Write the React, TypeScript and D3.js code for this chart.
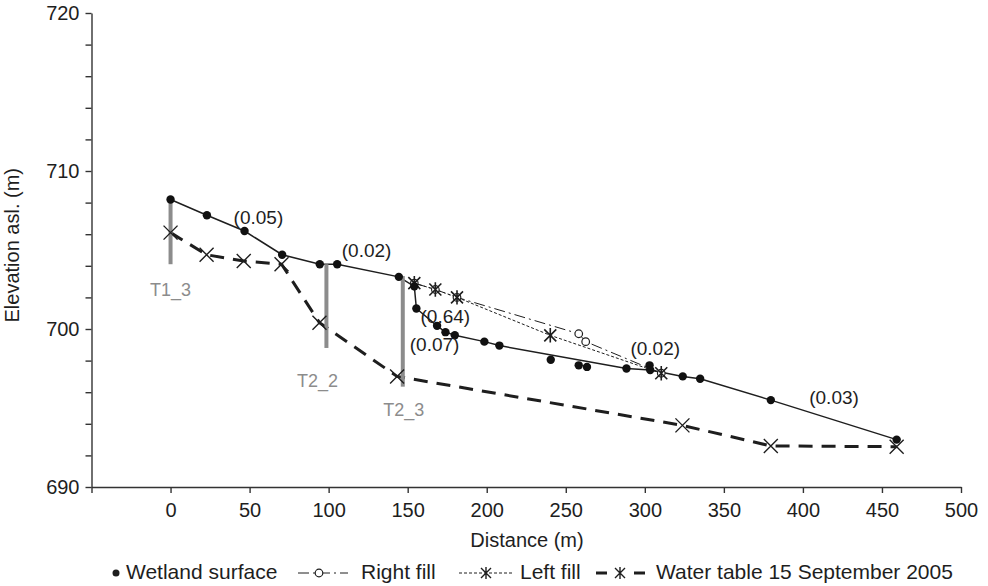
import React, { useEffect, useRef } from 'react';
import * as d3 from 'd3';

// wetland surface survey points (distance m, elevation m asl)
const surfaceDist = [0, 23, 46.8, 70.6, 94.4, 105.4, 144.4, 154.2, 155.5, 168.6, 173.9, 179.8, 198.5, 208, 240.5, 258.2, 263.4, 288.4, 303, 303.4, 324, 335, 379.7, 459.3];
const surfaceElev = [708.2, 707.2, 706.2, 704.7, 704.1, 704.1, 703.3, 702.7, 701.3, 700.2, 699.8, 699.6, 699.2, 698.95, 698.05, 697.7, 697.6, 697.5, 697.7, 697.4, 697.0, 696.85, 695.5, 693.0];
// survey points not joined by the profile line
const offProfile = [240.5, 258.2, 263.4, 303];

const rightFillDist = [154.2, 167.5, 181.2, 258.2, 262.6, 310.4];
const rightFillElev = [702.9, 702.5, 702.0, 699.7, 699.2, 697.2];

const leftFillDist = [154.2, 167.5, 181.2, 240.2, 310.4];
const leftFillElev = [702.9, 702.5, 702.0, 699.6, 697.2];

const waterDist = [0, 22.8, 46.3, 70.2, 94.2, 143.3, 323.8, 379.7, 459.3];
const waterElev = [706.1, 704.7, 704.3, 704.1, 700.4, 697.0, 693.9, 692.6, 692.55];

const wellNames = ['T1_3', 'T2_2', 'T2_3'];
const wellDist = [0, 98.6, 146.9];
const wellTop = [708.2, 704.1, 703.35];
const wellBottom = [704.1, 698.8, 696.35];
const wellLabelDist = [0, 93, 147.5];
const wellLabelElev = [702.4, 696.6, 694.8];

const slopeText = ['(0.05)', '(0.02)', '(0.64)', '(0.07)', '(0.02)', '(0.03)'];
const slopeDist = [55.6, 124, 173.8, 167, 306.6, 419.7];
const slopeElev = [706.96, 704.87, 700.7, 698.9, 698.7, 695.6];

const xTicks = [-50, 0, 50, 100, 150, 200, 250, 300, 350, 400, 450, 500];
const yTicks = d3.range(690, 721, 2);

const FONT = '"Liberation Sans", Arial, Helvetica, sans-serif';
const INK = '#1e1e1e';

const App = () => {
  const ref = useRef<SVGSVGElement>(null);

  useEffect(() => {
    const svg = d3.select(ref.current);
    svg.selectAll('*').remove();

    const x = d3.scaleLinear().domain([-50, 500]).range([91.5, 961]);
    const y = d3.scaleLinear().domain([690, 720]).range([487, 13]);

    // axes
    const xAxis = svg.append('g')
      .attr('transform', `translate(0,${y(690)})`)
      .call(d3.axisBottom(x).tickValues(xTicks).tickSize(6).tickSizeOuter(0)
        .tickFormat((d) => (+d < 0 ? '' : String(d))));
    const yAxis = svg.append('g')
      .attr('transform', `translate(${x(-50)},0)`)
      .call(d3.axisLeft(y).tickValues(yTicks).tickSize(6).tickSizeOuter(0)
        .tickFormat((d) => (+d % 10 === 0 ? String(d) : '')));
    [xAxis, yAxis].forEach((g) => {
      g.selectAll('path, line').attr('stroke', '#333').attr('stroke-width', 1.4);
      g.selectAll('text').attr('font-family', FONT).attr('font-size', 20).attr('fill', INK);
    });
    xAxis.selectAll('text').attr('dy', '1.05em');
    yAxis.selectAll('text').attr('dx', '-0.15em');

    svg.append('text')
      .attr('x', 527).attr('y', 542)
      .attr('text-anchor', 'middle').attr('dominant-baseline', 'middle')
      .attr('font-family', FONT).attr('font-size', 20).attr('fill', INK)
      .text('Distance (m)');
    svg.append('text')
      .attr('transform', `translate(19,${y(705.3)}) rotate(-90)`)
      .attr('text-anchor', 'middle')
      .attr('font-family', FONT).attr('font-size', 20).attr('fill', INK)
      .text('Elevation asl. (m)');

    const path = (xs: number[], ys: number[]) =>
      d3.line<number>().x((i) => x(xs[i])).y((i) => y(ys[i]))(d3.range(xs.length)) || '';

    // water table
    svg.append('path')
      .attr('d', path(waterDist, waterElev))
      .attr('fill', 'none').attr('stroke', INK).attr('stroke-width', 3)
      .attr('stroke-dasharray', '14,9');

    // right and left fill
    svg.append('path')
      .attr('d', path(rightFillDist, rightFillElev))
      .attr('fill', 'none').attr('stroke', INK).attr('stroke-width', 1)
      .attr('stroke-dasharray', '11,4,2,4');
    svg.append('path')
      .attr('d', path(leftFillDist, leftFillElev))
      .attr('fill', 'none').attr('stroke', INK).attr('stroke-width', 1)
      .attr('stroke-dasharray', '3,2');

    // surface profile
    const profIdx = d3.range(surfaceDist.length).filter((i) => !offProfile.includes(surfaceDist[i]));
    svg.append('path')
      .attr('d', d3.line<number>().x((i) => x(surfaceDist[i])).y((i) => y(surfaceElev[i]))(profIdx) || '')
      .attr('fill', 'none').attr('stroke', INK).attr('stroke-width', 1.5);

    // piezometer nests
    svg.selectAll('.well')
      .data(wellNames)
      .join('line')
      .attr('x1', (_, i) => x(wellDist[i])).attr('x2', (_, i) => x(wellDist[i]))
      .attr('y1', (_, i) => y(wellTop[i])).attr('y2', (_, i) => y(wellBottom[i]))
      .attr('stroke', '#8c8c8c').attr('stroke-width', 4);
    svg.selectAll('.wellLabel')
      .data(wellNames)
      .join('text')
      .attr('x', (_, i) => x(wellLabelDist[i])).attr('y', (_, i) => y(wellLabelElev[i]))
      .attr('text-anchor', 'middle').attr('dominant-baseline', 'middle')
      .attr('font-family', FONT).attr('font-size', 18).attr('fill', '#8c8c8c')
      .text((d) => d);

    // markers
    const cross = (g: any, cx: number, cy: number, r: number, star: boolean, w: number) => {
      g.append('path')
        .attr('d', `M${cx - r},${cy - r}L${cx + r},${cy + r}M${cx - r},${cy + r}L${cx + r},${cy - r}` +
          (star ? `M${cx},${cy - r * 1.2}L${cx},${cy + r * 1.2}` : ''))
        .attr('stroke', INK).attr('stroke-width', w).attr('fill', 'none');
    };
    const marks = svg.append('g');
    waterDist.forEach((d, i) => cross(marks, x(d), y(waterElev[i]), 7, false, 1.4));
    rightFillDist.forEach((d, i) => {
      marks.append('circle').attr('cx', x(d)).attr('cy', y(rightFillElev[i])).attr('r', 3.8)
        .attr('fill', 'white').attr('stroke', INK).attr('stroke-width', 1.2);
    });
    leftFillDist.forEach((d, i) => cross(marks, x(d), y(leftFillElev[i]), 6, true, 1.6));
    marks.selectAll('.dot')
      .data(surfaceDist)
      .join('circle')
      .attr('cx', (d) => x(d)).attr('cy', (_, i) => y(surfaceElev[i])).attr('r', 4.2)
      .attr('fill', '#111');

    // slope annotations
    svg.selectAll('.slope')
      .data(slopeText)
      .join('text')
      .attr('x', (_, i) => x(slopeDist[i])).attr('y', (_, i) => y(slopeElev[i]))
      .attr('text-anchor', 'middle').attr('dominant-baseline', 'middle')
      .attr('font-family', FONT).attr('font-size', 19).attr('fill', INK)
      .text((d) => d);

    // legend
    const lg = svg.append('g').attr('font-family', FONT).attr('font-size', 21).attr('fill', INK);
    const ly = 573;
    lg.append('circle').attr('cx', 116).attr('cy', ly).attr('r', 3.5).attr('fill', INK);
    lg.append('text').attr('x', 126).attr('y', ly).attr('dominant-baseline', 'middle').text('Wetland surface');

    lg.append('line').attr('x1', 298).attr('x2', 348).attr('y1', ly).attr('y2', ly)
      .attr('stroke', INK).attr('stroke-width', 1).attr('stroke-dasharray', '11,4,2,4');
    lg.append('circle').attr('cx', 319).attr('cy', ly).attr('r', 3.8)
      .attr('fill', 'white').attr('stroke', INK).attr('stroke-width', 1.2);
    lg.append('text').attr('x', 361).attr('y', ly).attr('dominant-baseline', 'middle').text('Right fill');

    lg.append('line').attr('x1', 459).attr('x2', 514).attr('y1', ly).attr('y2', ly)
      .attr('stroke', INK).attr('stroke-width', 1).attr('stroke-dasharray', '3,2');
    cross(lg, 486, ly, 5, true, 1.4);
    lg.append('text').attr('x', 520).attr('y', ly).attr('dominant-baseline', 'middle').text('Left fill');

    lg.append('line').attr('x1', 596).attr('x2', 645).attr('y1', ly).attr('y2', ly)
      .attr('stroke', INK).attr('stroke-width', 3).attr('stroke-dasharray', '11,27');
    cross(lg, 620, ly, 5, true, 1.4);
    lg.append('text').attr('x', 656).attr('y', ly).attr('dominant-baseline', 'middle').text('Water table 15 September 2005');
  }, []);

  return (
    <svg ref={ref} width={988} height={586}
      style={{ position: 'absolute', left: 0, top: 0, background: 'white' }} />
  );
};

export default App;
